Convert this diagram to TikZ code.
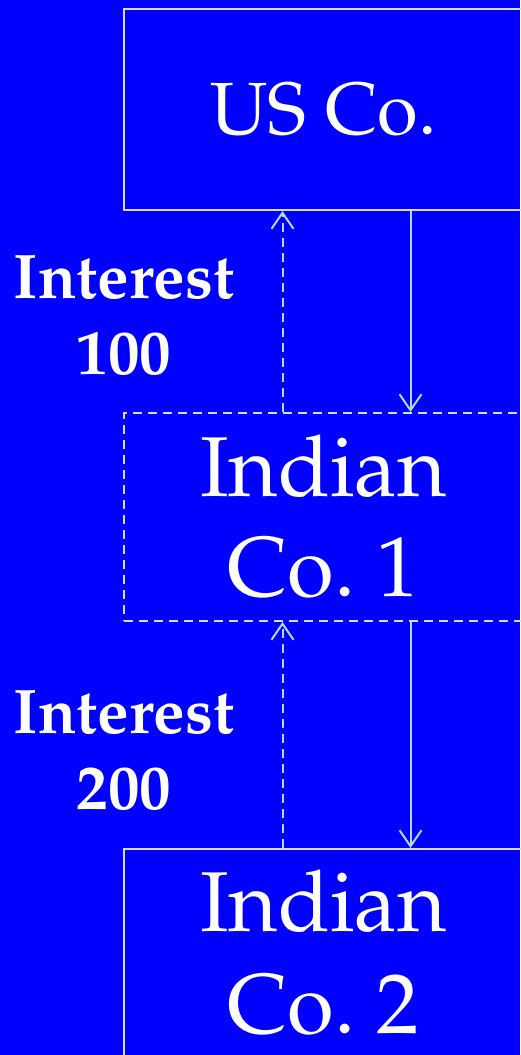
\documentclass[tikz,border=0pt]{standalone}
\usepackage[T1]{fontenc}
\usepackage{mathpazo}
\usepackage{tikz}
\usetikzlibrary{arrows.meta, positioning, calc}

\definecolor{slideblue}{RGB}{0,0,255}
\definecolor{boxline}{RGB}{215,220,250}
\definecolor{flowline}{RGB}{175,220,228}

\begin{document}
\begin{tikzpicture}[
    x=1pt, y=-1pt,
    company/.style={rectangle, draw=boxline, line width=2pt, minimum width=400pt, text=white, align=center, inner sep=0pt},
    payment/.style={draw=flowline, line width=2pt, -{Straight Barb[length=16pt, width=22pt, line width=2pt]}},
    interest/.style={payment, dashed, dash pattern=on 9pt off 6pt},
    note/.style={text=white, align=center, font=\fontsize{63}{76}\selectfont\bfseries}
]
\useasboundingbox (0,0) rectangle (520,1055);
\fill[slideblue] (0,0) rectangle (520,1055);

\node[company, minimum height=201.5pt, font=\fontsize{74}{88}\selectfont] (us) at (323.5,109.3) {US Co.};
\node[company, dashed, dash pattern=on 9pt off 6pt, minimum height=208pt, font=\fontsize{85}{100}\selectfont] (ind1) at (323.5,517) {Indian\\Co.~1};
\node[company, minimum height=208pt, font=\fontsize{85}{102}\selectfont] (ind2) at (323.5,953) {Indian\\Co.~2};

% columns of the two flows
\coordinate (down) at (410.5,0);
\coordinate (up) at (282.5,0);

\draw[payment] (us.south -| down) -- (ind1.north -| down);
\draw[payment] (ind1.south -| down) -- (ind2.north -| down);

\draw[interest] (ind1.north -| up) -- (us.south -| up);
\draw[interest] (ind2.north -| up) -- (ind1.south -| up);

\node[note] (int1) at (124,316) {Interest\\100};
\node[note] (int2) at (124,751) {Interest\\200};

\end{tikzpicture}
\end{document}
